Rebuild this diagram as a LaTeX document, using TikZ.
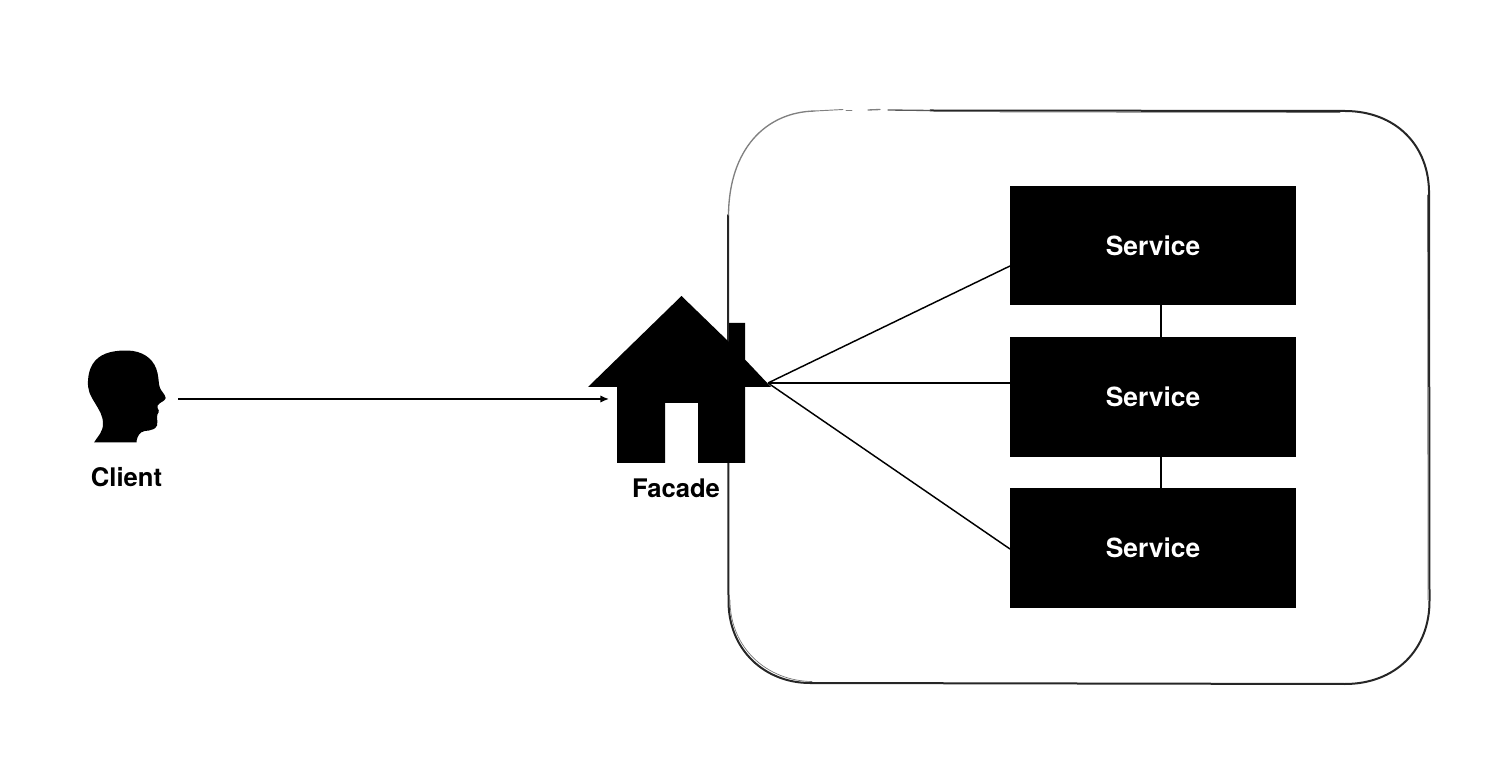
\documentclass[tikz,border=0pt]{standalone}
\usepackage{fontspec}
\setmainfont{TeX Gyre Heros}
\usetikzlibrary{arrows.meta}
\tikzset{
  servicebox/.style={draw=none,fill=black,text=white,minimum width=214.5pt,minimum height=89.6pt,inner sep=0pt,font=\fontsize{19.8}{22}\selectfont\bfseries},
  caption/.style={text=black,inner sep=0pt,font=\fontsize{19.2}{22}\selectfont\bfseries},
  wire/.style={draw=black,line width=1.1pt},
  sketch/.style={line width=1.5pt,draw=black!85,line cap=round},
  sketchfade/.style={line width=1pt,draw=black!50,line cap=round},
  sketchthin/.style={line width=0.5pt,draw=black!55,line cap=round}
}
\begin{document}
\begin{tikzpicture}[x=0.75pt,y=-0.75pt]
\useasboundingbox (0,0) rectangle (1504,766);
% container
\draw[sketch] (728,215) -- (728.5,600) .. controls (728,650) and (765,683) .. (810,683)
  -- (1345,684) .. controls (1395,684) and (1430,650) .. (1429.5,600)
  -- (1429,195) .. controls (1430,145) and (1395,111) .. (1345,111) -- (930,110.5);
\draw[sketch,line width=1pt,draw=black!65] (930,110.5) -- (888,110);
\draw[sketchfade] (728.5,215) .. controls (729,150) and (765,112) .. (815,111);
\draw[sketchfade,line width=0.7pt] (815,111) -- (843,109.5);
\draw[sketchfade,line width=0.7pt] (846,110) -- (852,110);
\draw[sketchfade] (868,110) -- (880,109.5);
\draw[sketchthin] (730,600) .. controls (730,648) and (767,681) .. (812,681.5);
\draw[sketchthin] (1427.5,195) -- (1428,600);
\draw[sketchthin] (1000,112) -- (1340,112.5);
% services
\node[servicebox] (s1) at (1153,245.5) {Service};
\node[servicebox] (s2) at (1153,397) {Service};
\node[servicebox] (s3) at (1153,548) {Service};
% vertical links
\draw[wire] (s1.south -| 1161,0) -- (s2.north -| 1161,0);
\draw[wire] (s2.south -| 1161,0) -- (s3.north -| 1161,0);
% house
\coordinate (facade) at (768,383);
\coordinate (facadein) at (609,399);
\coordinate (a) at (1010,266);
\coordinate (b) at (1010,383);
\coordinate (c) at (1010,549);
\draw[wire] (facade) -- (a);
\draw[wire] (facade) -- (b);
\draw[wire] (facade) -- (c);
\fill[black] (681.5,296) -- (729,342) -- (729,323) -- (745,323) -- (745,359.5) -- (771,387)
  -- (745,387) -- (745,463) -- (698,463) -- (698,403) -- (665,403) -- (665,463) -- (617,463)
  -- (617,387) -- (588,387) -- cycle;
\node[caption] (facadelabel) at (676,488) {Facade};
% head
\fill[black] (94,442.5) .. controls (98,436) and (103,432) .. (103,424)
  .. controls (103,415) and (99,410) .. (95,403)
  .. controls (90,395) and (87.5,390) .. (88,381)
  .. controls (88.5,368) and (94,358) .. (106,353.5)
  .. controls (114,350.5) and (125,350) .. (133,351)
  .. controls (146,353) and (155,361) .. (157.5,373)
  .. controls (159,380) and (158.5,384) .. (160,388)
  .. controls (161,391) and (165,394) .. (165.7,398)
  .. controls (165,401) and (161,402) .. (159.5,403.5)
  .. controls (158,405) and (156.5,406) .. (157.5,408)
  .. controls (158.5,410) and (159.5,410.5) .. (158.5,412.5)
  .. controls (157.5,414) and (157,415) .. (157,417.5)
  .. controls (157,420) and (158,423) .. (157,425.5)
  .. controls (155.5,429) and (152,430) .. (149,430.5)
  .. controls (145,431) and (143,431) .. (141,432.5)
  .. controls (138,435) and (136.5,439) .. (136.5,442.5) -- cycle;
\node[caption] (client) at (126.5,477) {Client};
\coordinate (clientout) at (178,399);
\draw[wire,-{Latex[length=6.5pt,width=5.5pt]}] (clientout) -- (facadein);
\end{tikzpicture}
\end{document}
